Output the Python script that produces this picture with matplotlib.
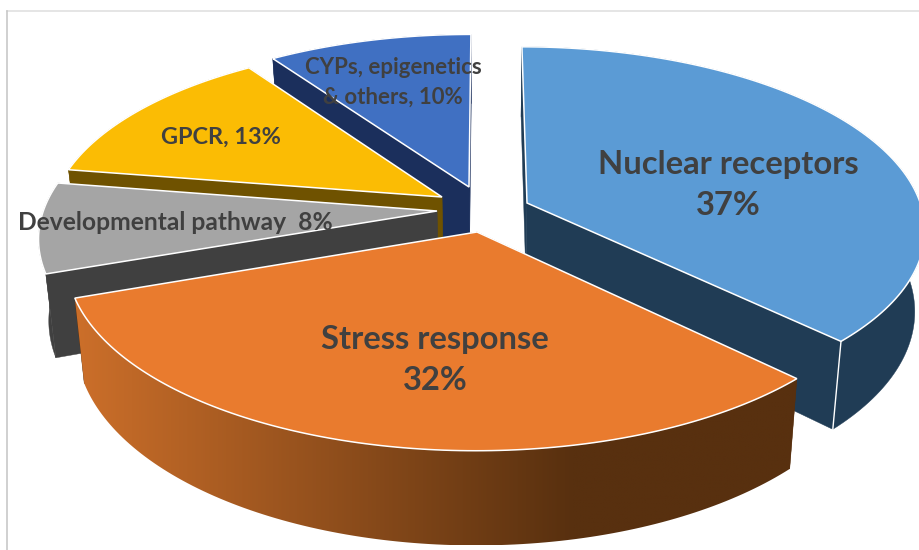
import numpy as np
import matplotlib
matplotlib.use('Agg')
import matplotlib.pyplot as plt
from matplotlib.colors import to_rgb
from matplotlib.patches import Polygon

# slices in clockwise order, starting from 12 o'clock
names = ['Nuclear receptors', 'Stress response', 'Developmental pathway', 'GPCR', 'CYPs, epigenetics & others']
values = [37, 32, 8, 13, 10]
labels = ['Nuclear receptors\n37%', 'Stress response\n32%', 'Developmental pathway  8%', 'GPCR, 13%',
          'CYPs, epigenetics\n& others, 10%']

topColors = ['#5b9bd5', '#e97b2e', '#a5a5a5', '#fbbc04', '#4070c2']
rimLeft = ['#203c55', '#cc6f2a', '#404040', '#6f5200', '#1b2f5c']
rimRight = ['#203c55', '#58300f', '#404040', '#6f5200', '#1b2f5c']
# tip of each pulled out slice, in pixels
tips = [(527, 203), (477, 232), (437, 211), (442, 197), (469, 187)]
radiusScale = [0.99, 1.0, 0.985, 0.98, 0.99]
labelPos = [(728, 185), (435, 360), (175, 222), (221, 137), (393, 82)]
labelSize = [23.6, 23.6, 17.7, 16.9, 16.0]
labelSpacing = [1.5, 1.47, 1.2, 1.2, 1.5]
# small correction of slice borders (degrees), the 3d view in the original is not exact
nudge = [0, 1.5, 2, 2, 1.5, 0]
drawOrder = [4, 0, 3, 2, 1]

cx, cy = 485, 212
rx, ry = 400, 182
k = 0.14
depth = 80
shrink = 0.977


def project(X, Y):
    w = 1 + k * Y
    return cx + X * rx / w, cy - Y * ry / w


def lower(X, Y):
    w = 1 + k * Y
    px, py = project(X, Y)
    return cx + (px - cx) * shrink, py + depth / w


def tip_to_disc(px, py):
    a = cy - py
    Y = a / (ry - k * a)
    X = (px - cx) * (1 + k * Y) / rx
    return X, Y


fig = plt.figure(figsize=(9.2, 5.5), dpi=100)
ax = fig.add_axes([0, 0, 1, 1])
ax.axis('off')

# picture frame
ax.plot([7.5, 920], [10.5, 10.5], color='#e0e0e0', linewidth=1.2, zorder=0.5)
ax.plot([7.5, 7.5], [10.5, 550], color='#c8c8c8', linewidth=1.2, zorder=0.5)

edges = np.cumsum([0] + values) / sum(values) * 360 + np.array(nudge)

z = 1
for i in drawOrder:
    X0, Y0 = tip_to_disc(*tips[i])
    theta = np.radians(np.linspace(edges[i], edges[i + 1], 121))
    X = X0 + radiusScale[i] * np.sin(theta)
    Y = Y0 + radiusScale[i] * np.cos(theta)
    topX, topY = project(X, Y)
    lowX, lowY = lower(X, Y)
    tipTop = project(X0, Y0)
    tipLow = lower(X0, Y0)

    # flat cut faces
    c = rimRight[i]
    for j in [0, -1]:
        ax.fill([tipTop[0], topX[j], lowX[j], tipLow[0]], [tipTop[1], topY[j], lowY[j], tipLow[1]],
                facecolor=c, edgecolor=c, linewidth=0.3, zorder=z)

    # outer rim
    rimPts = np.column_stack([np.r_[topX, lowX[::-1]], np.r_[topY, lowY[::-1]]])
    if rimLeft[i] == rimRight[i]:
        ax.add_patch(Polygon(rimPts, facecolor=c, edgecolor=c, linewidth=0.3, zorder=z + 0.1))
    else:
        # gradient from left to right, clipped to the rim
        xa, xb = rimPts[:, 0].min(), rimPts[:, 0].max()
        ya, yb = rimPts[:, 1].min(), rimPts[:, 1].max()
        f = np.minimum(np.linspace(0, 1, 256) * 1.45, 1)[None, :, None]
        grad = np.array(to_rgb(rimLeft[i])) + (np.array(to_rgb(rimRight[i])) - np.array(to_rgb(rimLeft[i]))) * f
        im = ax.imshow(grad, extent=(xa, xb, yb, ya), aspect='auto', interpolation='bilinear', zorder=z + 0.1)
        clip = Polygon(rimPts, transform=ax.transData, facecolor='none', edgecolor='none')
        ax.add_patch(clip)
        im.set_clip_path(clip)
    if i == 0:
        ax.plot([topX[-1], lowX[-1]], [topY[-1], lowY[-1]], color='white', linewidth=1.0, zorder=z + 0.2)

    ax.fill(np.r_[tipTop[0], topX], np.r_[tipTop[1], topY], facecolor=topColors[i], edgecolor='white',
            linewidth=1.1, joinstyle='miter', zorder=z + 0.3)
    z += 1

for i in range(len(labels)):
    ax.text(labelPos[i][0], labelPos[i][1], labels[i], ha='center', va='center', family='Lato',
            fontweight='bold', fontsize=labelSize[i], color='#404040', linespacing=labelSpacing[i], zorder=50)

ax.set_xlim(0, 920)
ax.set_ylim(550, 0)
plt.savefig('out.png', dpi=100)
